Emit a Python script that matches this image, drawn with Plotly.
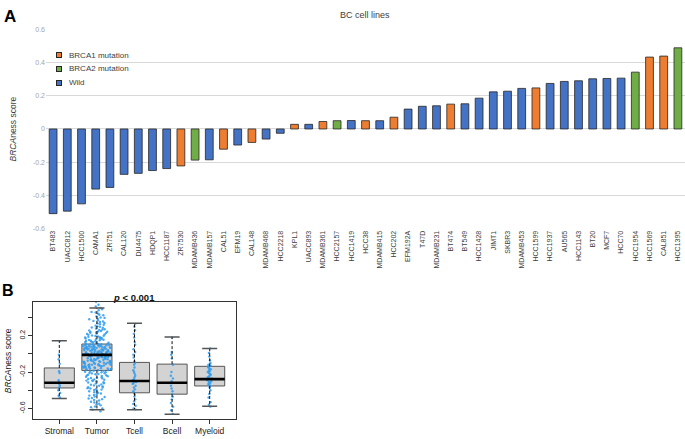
import plotly.graph_objects as go

# ---------------- Panel A data ----------------
cell_lines = ["BT483", "UACC812", "HCC1500", "CAMA1", "ZR751", "CAL120", "DU4475", "HDQP1",
              "HCC1187", "ZR7530", "MDAMB436", "MDAMB157", "CAL51", "EFM19", "CAL148", "MDAMB468",
              "HCC2218", "KPL1", "UACC893", "MDAMB361", "HCC2157", "HCC1419", "HCC38", "MDAMB415",
              "HCC202", "EFM192A", "T47D", "MDAMB231", "BT474", "BT549", "HCC1428", "JIMT1", "SKBR3",
              "MDAMB453", "HCC1599", "HCC1937", "AU565", "HCC1143", "BT20", "MCF7", "HCC70",
              "HCC1954", "HCC1569", "CAL851", "HCC1395"]
brcaness = [-0.511, -0.496, -0.452, -0.363, -0.353, -0.274, -0.268, -0.251, -0.239, -0.223,
            -0.188, -0.186, -0.122, -0.097, -0.081, -0.061, -0.026, 0.028, 0.028, 0.045,
            0.050, 0.051, 0.050, 0.050, 0.071, 0.120, 0.137, 0.140, 0.150, 0.152,
            0.186, 0.224, 0.228, 0.245, 0.248, 0.275, 0.287, 0.291, 0.303, 0.305,
            0.307, 0.343, 0.434, 0.440, 0.490]
status = ["Wild", "Wild", "Wild", "Wild", "Wild", "Wild", "Wild", "Wild", "Wild", "BRCA1 mutation",
          "BRCA2 mutation", "Wild", "BRCA1 mutation", "Wild", "BRCA1 mutation", "Wild", "Wild",
          "BRCA1 mutation", "Wild", "BRCA1 mutation", "BRCA2 mutation", "Wild", "BRCA1 mutation",
          "Wild", "BRCA1 mutation", "Wild", "Wild", "Wild", "BRCA1 mutation", "Wild", "Wild", "Wild",
          "Wild", "Wild", "BRCA1 mutation", "Wild", "Wild", "Wild", "Wild", "Wild", "Wild",
          "BRCA2 mutation", "BRCA1 mutation", "BRCA1 mutation", "BRCA2 mutation"]
status_colors = {"BRCA1 mutation": "#ED7D31", "BRCA2 mutation": "#70AD47", "Wild": "#4472C4"}
a_tickvals = [-0.6, -0.4, -0.2, 0, 0.2, 0.4, 0.6]
a_ticktext = ["-0.6", "-0.4", "-0.2", "0", "0.2", "0.4", "0.6"]

# ---------------- Panel B data ----------------
groups = ["Stromal", "Tumor", "Tcell", "Bcell", "Myeloid"]
positions = [1, 2, 3, 4, 5]
upper = [0.143, 0.505, 0.335, 0.186, 0.058]
q3 = [-0.155, 0.108, -0.094, -0.113, -0.137]
median = [-0.317, -0.011, -0.299, -0.317, -0.278]
q1 = [-0.375, -0.182, -0.428, -0.443, -0.353]
lower = [-0.490, -0.614, -0.614, -0.663, -0.577]
b_tickvals = [-0.6, -0.4, -0.2, 0, 0.2, 0.4]
b_ticktext = ["-0.6", "", "-0.2", "", "0.2", ""]

stromal_pts = [0.14, -0.01, -0.06, -0.11, -0.19, -0.21, -0.29, -0.31, -0.32, -0.33,
               -0.35, -0.37, -0.40, -0.43, -0.46, -0.48]
tumor_pts = [
    0.62, 0.57, 0.54, 0.52, 0.505,
    0.49, 0.48, 0.46, 0.455, 0.44, 0.43, 0.425, 0.41, 0.40,
    0.395, 0.385, 0.38, 0.37, 0.362, 0.355, 0.35, 0.34, 0.335, 0.325, 0.32, 0.31, 0.302,
    0.297, 0.29, 0.288, 0.279, 0.271, 0.268, 0.262, 0.256, 0.251, 0.247, 0.243, 0.24, 0.236,
    0.231, 0.228, 0.224, 0.219, 0.214, 0.209, 0.203,
    0.199, 0.196, 0.191, 0.187, 0.184, 0.179, 0.176, 0.171, 0.169, 0.163, 0.161, 0.155,
    0.152, 0.149, 0.144, 0.142, 0.138, 0.133, 0.131, 0.127, 0.122, 0.117, 0.112,
    0.109, 0.108, 0.105, 0.103, 0.103, 0.101, 0.098, 0.097, 0.094, 0.093, 0.092, 0.089,
    0.087, 0.087, 0.084, 0.082, 0.081, 0.079, 0.077, 0.075, 0.074, 0.072, 0.069, 0.068,
    0.066, 0.066, 0.063, 0.061, 0.06, 0.057, 0.056, 0.055, 0.052, 0.051, 0.049, 0.047,
    0.046, 0.043, 0.042, 0.041, 0.038, 0.036, 0.036, 0.033, 0.031, 0.03, 0.028, 0.026,
    0.023, 0.022, 0.021, 0.018, 0.016, 0.015, 0.012, 0.011, 0.009, 0.007, 0.005, 0.004,
    0.002, 0.0, -0.001, -0.003, -0.004, -0.006, -0.007, -0.009,
    -0.012, -0.013, -0.016, -0.019, -0.02, -0.024, -0.026, -0.027, -0.031, -0.032,
    -0.035, -0.038, -0.039, -0.042, -0.043, -0.047, -0.05, -0.051, -0.053, -0.057,
    -0.058, -0.06, -0.063, -0.066, -0.068, -0.069, -0.073, -0.075, -0.077, -0.08,
    -0.081, -0.084, -0.087, -0.088, -0.09, -0.092, -0.096, -0.097, -0.101, -0.102,
    -0.105, -0.108, -0.109, -0.112, -0.114, -0.116, -0.119, -0.121, -0.125, -0.126,
    -0.128, -0.132, -0.133, -0.136, -0.139, -0.14, -0.142, -0.146, -0.148, -0.149,
    -0.153, -0.155, -0.157, -0.16, -0.162, -0.165, -0.167, -0.17, -0.173, -0.177,
    -0.181, -0.185, -0.187, -0.193, -0.196, -0.201, -0.203, -0.209, -0.213, -0.215,
    -0.222, -0.225, -0.229, -0.234, -0.237, -0.242, -0.246, -0.251, -0.256, -0.262,
    -0.266, -0.27, -0.277, -0.281, -0.284, -0.291, -0.294, -0.299,
    -0.304, -0.311, -0.315, -0.323, -0.327, -0.336, -0.339, -0.347, -0.351, -0.357,
    -0.366, -0.369, -0.377, -0.381, -0.389, -0.393, -0.398,
    -0.406, -0.411, -0.421, -0.427, -0.435, -0.446, -0.451, -0.459, -0.47, -0.475,
    -0.486, -0.491, -0.498,
    -0.507, -0.513, -0.527, -0.534, -0.548, -0.553, -0.566, -0.578, -0.586, -0.601,
    -0.614, -0.632]
tcell_pts = [0.33, 0.30, 0.26, 0.22, 0.18, 0.13, 0.10, 0.05, 0.02, -0.01, -0.04, -0.08,
             -0.10, -0.12, -0.15, -0.18, -0.20, -0.22, -0.24, -0.26, -0.28, -0.29, -0.30,
             -0.31, -0.32, -0.33, -0.35, -0.37, -0.39, -0.41, -0.43, -0.45, -0.47, -0.50,
             -0.52, -0.55, -0.57, -0.60, -0.61]
bcell_pts = [0.18, 0.02, -0.01, -0.05, -0.12, -0.20, -0.24, -0.27, -0.30, -0.32, -0.35,
             -0.38, -0.41, -0.44, -0.47, -0.50, -0.54, -0.58, -0.62, -0.66]
myeloid_pts = [0.06, 0.01, -0.03, -0.07, -0.10, -0.12, -0.13, -0.14, -0.15, -0.16, -0.17,
               -0.18, -0.19, -0.20, -0.21, -0.22, -0.23, -0.24, -0.25, -0.26, -0.27, -0.27,
               -0.28, -0.29, -0.30, -0.31, -0.32, -0.33, -0.34, -0.35, -0.37, -0.40, -0.44,
               -0.48, -0.53, -0.56, -0.58]
group_points = [stromal_pts, tumor_pts, tcell_pts, bcell_pts, myeloid_pts]
group_jitter = [0.08, 0.95, 0.12, 0.1, 0.16]

FONT = "Liberation Sans, Arial, sans-serif"
W, H = 685, 439

fig = go.Figure()

# ---- Panel A bars
fig.add_trace(go.Bar(
    x=cell_lines, y=brcaness,
    marker=dict(color=[status_colors[s] for s in status], line=dict(color="#262626", width=0.8)),
    showlegend=False, xaxis="x", yaxis="y"))

# ---- Panel B boxes (precomputed stats)
fig.add_trace(go.Box(
    x=positions, q1=q1, median=median, q3=q3, lowerfence=q1, upperfence=q3,
    width=0.8, whiskerwidth=0, fillcolor="#D3D3D3", line=dict(color="#555555", width=1),
    boxpoints=False, showlegend=False, hoverinfo="skip", xaxis="x2", yaxis="y2"))

wx, wy, cx, cy, mx, my = [], [], [], [], [], []
for p, lo, a, m, b, hi in zip(positions, lower, q1, median, q3, upper):
    wx += [p, p, None, p, p, None]
    wy += [b, hi, None, a, lo, None]
    cx += [p - 0.2, p + 0.2, None, p - 0.2, p + 0.2, None]
    cy += [hi, hi, None, lo, lo, None]
    mx += [p - 0.4, p + 0.4, None]
    my += [m, m, None]
fig.add_trace(go.Scatter(x=wx, y=wy, mode="lines", line=dict(color="#111111", width=1, dash="3px,2px"),
                         showlegend=False, hoverinfo="skip", xaxis="x2", yaxis="y2"))
fig.add_trace(go.Scatter(x=cx, y=cy, mode="lines", line=dict(color="#555555", width=1.5),
                         showlegend=False, hoverinfo="skip", xaxis="x2", yaxis="y2"))
fig.add_trace(go.Scatter(x=mx, y=my, mode="lines", line=dict(color="#000000", width=2.6),
                         showlegend=False, hoverinfo="skip", xaxis="x2", yaxis="y2"))

# ---- Panel B points (swarm-like via box jitter)
for p, pts, jit in zip(positions, group_points, group_jitter):
    fig.add_trace(go.Box(
        x=[p] * len(pts), y=pts, boxpoints="all", jitter=jit, pointpos=0, width=0.8,
        fillcolor="rgba(0,0,0,0)", line=dict(color="rgba(0,0,0,0)", width=0),
        marker=dict(size=2.4, color="rgba(45,155,240,0.85)"),
        showlegend=False, hoverinfo="skip", xaxis="x2", yaxis="y2"))

# ---- Legend for panel A (compact, drawn as swatch + text)
legend_ann = []
for i, (name, col) in enumerate(status_colors.items()):
    yy = 1 - (52 + 14 * i) / H
    legend_ann.append(dict(text="&nbsp;", x=59 / W, y=yy, xref="paper", yref="paper",
                           xanchor="center", yanchor="middle", showarrow=False,
                           font=dict(size=2), bgcolor=col, bordercolor="#262626",
                           borderwidth=1, borderpad=0.5, width=3, height=3))
    legend_ann.append(dict(text=name, x=67 / W, y=yy, xref="paper", yref="paper",
                           xanchor="left", yanchor="middle", showarrow=False,
                           font=dict(size=8, color="#404040")))

fig.update_layout(
    width=W, height=H, margin=dict(l=0, r=0, t=0, b=0),
    paper_bgcolor="white", plot_bgcolor="white",
    font=dict(family=FONT, color="#404040"),
    boxmode="overlay", bargap=0.45,
    showlegend=False,
    xaxis=dict(domain=[46 / W, 1.0], anchor="y", type="category", tickangle=-90,
               tickfont=dict(size=7, color="#404040"), showgrid=False, showline=False,
               ticks="", zeroline=False),
    yaxis=dict(domain=[1 - 228 / H, 1 - 26 / H], anchor="x", range=[-0.6, 0.6],
               tickvals=a_tickvals, ticktext=a_ticktext, gridcolor="#D9D9D9", gridwidth=1,
               tickfont=dict(size=7, color="#A6A6A6"), zeroline=False, showline=False,
               ticks=""),
    xaxis2=dict(domain=[33 / W, 236 / W], anchor="y2", range=[0.3, 5.7],
                tickvals=positions, ticktext=groups, ticks="outside", ticklen=4,
                tickcolor="#333333", showline=True, mirror=True, linecolor="#333333",
                linewidth=1, showgrid=False, zeroline=False,
                tickfont=dict(size=8.5, color="#222222")),
    yaxis2=dict(domain=[1 - 422 / H, 1 - 303 / H], anchor="x2", range=[-0.719, 0.568],
                tickvals=b_tickvals, ticktext=b_ticktext, tickangle=-90, ticks="outside",
                ticklen=4, tickcolor="#333333", showline=True, mirror=True,
                linecolor="#333333", linewidth=1, showgrid=False, zeroline=False,
                tickfont=dict(size=7, color="#222222")),
    annotations=[
        dict(text="<b>A</b>", x=2 / W, y=1 - 1 / H, xref="paper", yref="paper",
             xanchor="left", yanchor="top", showarrow=False, font=dict(size=17, color="#000000")),
        dict(text="BC cell lines", x=365 / W, y=1 - 11 / H, xref="paper", yref="paper",
             xanchor="center", yanchor="middle", showarrow=False, font=dict(size=9, color="#404040")),
        dict(text="<i>BRCA</i>ness score", x=12.5 / W, y=1 - 127 / H, xref="paper", yref="paper",
             xanchor="center", yanchor="middle", textangle=-90, showarrow=False,
             font=dict(size=8.5, color="#404040")),
        dict(text="<b>B</b>", x=0, y=1 - 280 / H, xref="paper", yref="paper",
             xanchor="left", yanchor="top", showarrow=False, font=dict(size=16, color="#000000")),
        dict(text="<b><i>p</i> &lt; 0.001</b>", x=134 / W, y=1 - 298 / H, xref="paper", yref="paper",
             xanchor="center", yanchor="middle", showarrow=False, font=dict(size=9.5, color="#111111")),
        dict(text="<i>BRCA</i>ness score", x=8 / W, y=1 - 363 / H, xref="paper", yref="paper",
             xanchor="center", yanchor="middle", textangle=-90, showarrow=False,
             font=dict(size=8.5, color="#222222")),
    ] + legend_ann,
)

fig.write_html("out.html", config={"displayModeBar": False},
               post_script="document.body.style.margin='0';document.body.style.overflow='hidden';")
